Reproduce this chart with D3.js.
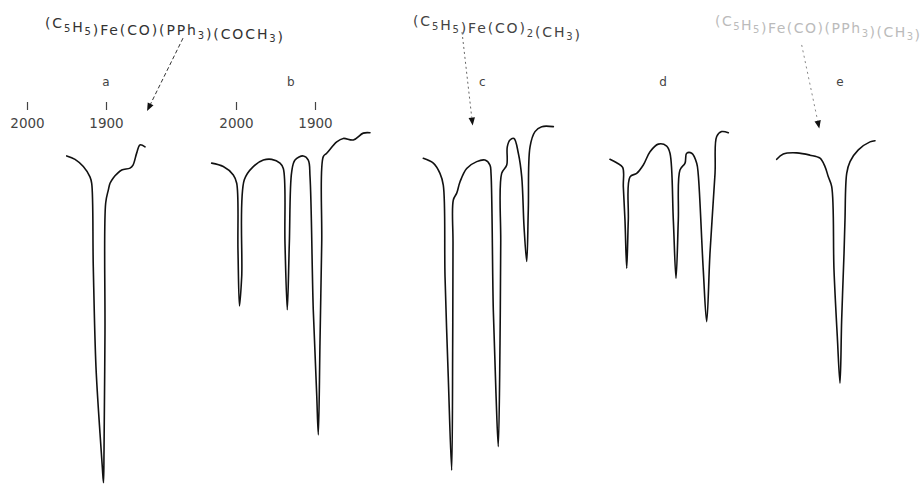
<!DOCTYPE html>
<html>
<head>
<meta charset="utf-8">
<script src="https://cdn.jsdelivr.net/npm/d3@7"></script>
<style>
  html, body { margin: 0; padding: 0; background: #fff; }
  svg { display: block; }
  text { font-family: "DejaVu Sans", sans-serif; }
</style>
</head>
<body>
<svg id="chart" width="924" height="485"></svg>
<script>
// ---------- DATA (wavenumber cm^-1, transmittance %) ----------
const panelLabels = ["a", "b", "c", "d", "e"];
const tickValues = [2000, 1900];
const tickLabels = ["2000", "1900"];

const spectrumA = [
  [1949.7, 86.6], [1939.2, 85.7], [1928.7, 83.8], [1920.3, 81.1], [1918.1, 79.4],
  [1916.1, 57.4], [1912.7, 31.1], [1907.6, 13.6], [1904.7, 4.8], [1903.2, 0.6],
  [1902.5, 9.2], [1901.3, 40.0], [1900.4, 74.2], [1897.1, 77.6], [1894.9, 79.4],
  [1890.8, 80.8], [1886.5, 81.8], [1880.1, 82.9], [1869.6, 83.4], [1865.8, 84.2],
  [1861.1, 87.4], [1857.0, 89.5], [1850.6, 89.0]
];
const spectrumB = [
  [2030.8, 84.7], [2016.1, 83.8], [2003.4, 81.6], [1999.1, 79.4], [1997.5, 61.8],
  [1995.6, 47.1], [1992.8, 54.8], [1989.5, 80.3], [1978.1, 83.8], [1965.4, 85.5],
  [1954.8, 85.7], [1944.3, 84.7], [1940.1, 83.3], [1938.0, 63.6], [1935.1, 46.1],
  [1932.5, 63.6], [1929.5, 82.4], [1925.3, 85.5], [1914.8, 86.6], [1908.5, 85.5],
  [1906.3, 81.1], [1902.2, 46.1], [1897.9, 24.1], [1895.8, 13.2], [1893.7, 37.3],
  [1891.5, 63.6], [1889.5, 86.4], [1885.2, 87.3], [1872.5, 90.3], [1864.2, 91.2],
  [1851.5, 90.8], [1838.9, 92.6], [1830.4, 92.7]
];
const spectrumC = [
  [2026.2, 86.0], [2013.5, 84.7], [2005.1, 82.0], [2000.9, 78.9], [1998.7, 54.8],
  [1994.6, 28.5], [1990.3, 3.9], [1989.0, 37.3], [1988.6, 63.6], [1988.2, 75.0],
  [1983.9, 76.8], [1979.7, 79.8], [1971.3, 83.3], [1958.6, 85.1], [1948.1, 85.5],
  [1941.8, 84.2], [1940.5, 82.0], [1937.6, 46.1], [1934.2, 24.1], [1931.3, 10.1],
  [1929.1, 37.3], [1928.2, 63.6], [1927.0, 82.0], [1920.6, 84.2], [1919.9, 89.0],
  [1916.5, 90.8], [1911.4, 91.2], [1905.9, 87.3], [1901.6, 81.1], [1898.7, 68.0],
  [1895.3, 58.8], [1893.3, 72.4], [1891.1, 89.0], [1884.8, 93.0], [1876.3, 94.3],
  [1861.6, 94.3]
];
const spectrumD = [
  [2012.7, 85.7], [2004.2, 84.8], [1996.6, 83.6], [1995.8, 78.5], [1993.7, 69.7],
  [1991.5, 57.0], [1989.5, 69.7], [1987.3, 81.1], [1978.9, 82.0], [1970.5, 84.2],
  [1962.0, 87.7], [1951.5, 89.7], [1940.9, 89.2], [1936.7, 87.3], [1932.5, 69.7],
  [1929.1, 54.4], [1926.2, 69.7], [1924.1, 82.9], [1917.7, 84.7], [1915.6, 87.3],
  [1909.2, 87.3], [1902.9, 84.7], [1900.9, 81.6], [1894.6, 56.6], [1890.3, 43.0],
  [1886.1, 61.0], [1879.7, 82.0], [1877.6, 91.7], [1871.3, 93.0], [1862.9, 92.7]
];
const spectrumE = [
  [1980.1, 85.7], [1971.8, 87.1], [1954.8, 87.4], [1938.0, 86.8], [1925.3, 86.0],
  [1919.0, 83.8], [1914.8, 81.1], [1910.5, 78.5], [1907.6, 56.6], [1903.4, 39.0],
  [1900.0, 26.8], [1897.9, 43.4], [1894.9, 61.0], [1893.7, 69.7], [1891.5, 82.0],
  [1887.3, 85.1], [1876.8, 88.2], [1862.0, 90.3], [1855.7, 90.6]
];
const spectra = [spectrumA, spectrumB, spectrumC, spectrumD, spectrumE];

const formulas = [
  ["(C", ["5"], "H", ["5"], ")Fe(CO)(PPh", ["3"], ")(COCH", ["3"], ")"],
  ["(C", ["5"], "H", ["5"], ")Fe(CO)", ["2"], "(CH", ["3"], ")"],
  ["(C", ["5"], "H", ["5"], ")Fe(CO)(PPh", ["3"], ")(CH", ["3"], ")"]
];
// arrows: [panel index, start [wn, T], end [wn, T]]
const arrows = [
  [0, [1802.5, 117.6], [1848.0, 98.4]],
  [2, [1977.2, 119.2], [1963.7, 94.6]],
  [4, [1948.5, 115.8], [1926.2, 93.8]]
];

// ---------- LAYOUT ----------
const panelAnchor = [27, 236, 444, 620, 761];   // pixel position of 2000 cm^-1 in each panel
const pxPer100 = 79;
const showTicks = [true, true, false, false, false];
const panelLabelY = 86;
const labelNudge = [0, 0, -6, -6, 14];
const formulaLayout = [
  { x: 45, y: 28, w: 238, fill: "#333" },
  { x: 413, y: 26, w: 167, fill: "#444" },
  { x: 715, y: 26, w: 205, fill: "#bbb" }
];
const arrowStyle = [
  { dash: "4,2.5", color: "#333" },
  { dash: "2,3", color: "#666" },
  { dash: "2,3.5", color: "#888" }
];

const svg = d3.select("#chart");
const y = d3.scaleLinear().domain([0, 100]).range([485, 105]);
const xScales = panelAnchor.map(a => d3.scaleLinear().domain([2000, 1900]).range([a, a + pxPer100]));

const line = (xs) => d3.line()
  .x(d => xs(d[0]))
  .y(d => y(d[1]))
  .curve(d3.curveCatmullRom.alpha(0.5));

// spectra
spectra.forEach((s, i) => {
  svg.append("path")
    .datum(s)
    .attr("d", line(xScales[i]))
    .attr("fill", "none")
    .attr("stroke", "#111")
    .attr("stroke-width", 1.6)
    .attr("stroke-linejoin", "round")
    .attr("stroke-linecap", "round");
});

// panel labels
panelLabels.forEach((lab, i) => {
  const ext = d3.extent(spectra[i], d => d[0]);
  let cx;
  if (i === 0) cx = xScales[0](1900);
  else cx = (xScales[i](ext[0]) + xScales[i](ext[1])) / 2 + labelNudge[i];
  svg.append("text")
    .attr("x", cx).attr("y", panelLabelY)
    .attr("text-anchor", "middle")
    .attr("font-size", 12)
    .attr("fill", "#444")
    .text(lab);
});

// axes with ticks for panels a and b
xScales.forEach((xs, i) => {
  if (!showTicks[i]) return;
  const ax = d3.axisBottom(xs)
    .tickValues(tickValues)
    .tickFormat((d, k) => tickLabels[k])
    .tickSize(8).tickPadding(8);
  const g = svg.append("g").attr("transform", "translate(0,102)").call(ax);
  g.select(".domain").remove();
  g.selectAll(".tick line").attr("stroke", "#444").attr("stroke-width", 1.2);
  g.selectAll(".tick text")
    .attr("font-family", "DejaVu Sans, sans-serif")
    .attr("font-size", 13.5)
    .attr("fill", "#444");
});

// formulas
formulas.forEach((parts, i) => {
  const L = formulaLayout[i];
  const t = svg.append("text")
    .attr("x", L.x).attr("y", L.y)
    .attr("font-size", 14)
    .attr("fill", L.fill)
    .attr("textLength", L.w)
    .attr("lengthAdjust", "spacing");
  parts.forEach(p => {
    if (Array.isArray(p)) {
      t.append("tspan").attr("dy", 3.5).attr("font-size", 10).text(p[0]);
      t.append("tspan").attr("dy", -3.5).text("");
    } else {
      t.append("tspan").text(p);
    }
  });
});

// arrows
arrows.forEach((a, k) => {
  const xs = xScales[a[0]];
  const x1 = xs(a[1][0]), y1 = y(a[1][1]);
  const x2 = xs(a[2][0]), y2 = y(a[2][1]);
  const ang = Math.atan2(y2 - y1, x2 - x1);
  const hl = 8, hw = 3.2;
  const bx = x2 - hl * Math.cos(ang), by = y2 - hl * Math.sin(ang);
  const st = arrowStyle[k];
  svg.append("line")
    .attr("x1", x1).attr("y1", y1).attr("x2", bx).attr("y2", by)
    .attr("stroke", st.color).attr("stroke-width", 1)
    .attr("stroke-dasharray", st.dash);
  const px = -Math.sin(ang), py = Math.cos(ang);
  svg.append("path")
    .attr("d", d3.line()([[x2, y2], [bx + px * hw, by + py * hw], [bx - px * hw, by - py * hw]]) + "Z")
    .attr("fill", "#111");
});
</script>
</body>
</html>
